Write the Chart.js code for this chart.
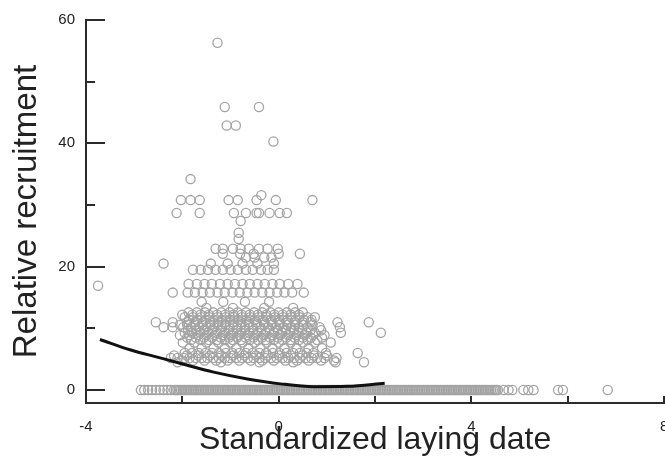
<!DOCTYPE html>
<html>
<head>
<meta charset="utf-8">
<script src="https://cdn.jsdelivr.net/npm/chart.js@4"></script>
<style>
  html, body { margin: 0; padding: 0; background: #fff; overflow: hidden; }
  #wrap { width: 665px; height: 460px; overflow: hidden; }
</style>
</head>
<body>
<div id="wrap"><canvas id="recruitChart" width="670" height="460"></canvas></div>
<script>
// axis ticks
const xTicks = [-4, -2, 0, 2, 4, 6, 8];
const yTicks = [0, 10, 20, 30, 40, 50, 60];

// observed recruitment levels (y) and the laying dates (x) found at each level
const recruitLevels = [0, 0, 4.5, 4.8, 5.2, 5.6, 6.0, 6.8, 7.7, 8.1, 8.5, 8.9, 9.3, 9.7, 10.2, 10.6, 11.0,
    11.4, 11.8, 12.2, 12.6, 13.3, 14.3, 15.8, 16.9, 17.2, 19.5, 20.5, 21.5, 22.1, 22.9, 24.5, 25.5, 27.4,
    28.7, 30.8, 31.6, 34.2, 40.3, 42.9, 45.9, 56.3];
const recruitDates = [
    [-2.86, -2.79, -2.71, -2.63, -2.55, -2.47, -2.39, -2.31, -2.24, -2.17, -2.10, -2.03, -1.96, -1.89, -1.82,
     -1.75, -1.68, -1.61, -1.54, -1.47, -1.40, -1.33, -1.26, -1.19, -1.12, -1.05, -0.98, -0.91, -0.84, -0.77,
     -0.70, -0.63, -0.56, -0.49, -0.42, -0.35, -0.28, -0.21, -0.14, -0.07, 0.00, 0.07, 0.14, 0.21, 0.28, 0.35,
     0.42, 0.49, 0.56, 0.63, 0.70, 0.77, 0.84, 0.91, 0.98, 1.05, 1.12, 1.19, 1.26, 1.33, 1.40, 1.47, 1.54,
     1.61, 1.68, 1.75, 1.82, 1.89, 1.96, 2.03, 2.10, 2.17, 2.24, 2.31, 2.38, 2.45, 2.52, 2.59, 2.66, 2.73,
     2.80, 2.87, 2.94, 3.01, 3.08, 3.15, 3.22, 3.29, 3.36, 3.43, 3.50, 3.57, 3.64, 3.71, 3.78, 3.85, 3.92,
     3.99, 4.06, 4.13, 4.20, 4.27, 4.34, 4.41, 4.48, 4.55, 4.67, 4.77, 4.85, 5.08, 5.18, 5.29, 5.80, 5.90, 6.83],
    [-2.135, -2.065, -1.995, -1.925, -1.855, -1.785, -1.715, -1.645, -1.575, -1.505, -1.435, -1.365, -1.295,
     -1.225, -1.155, -1.085, -1.015, -0.945, -0.875, -0.805, -0.735, -0.665, -0.595, -0.525, -0.455, -0.385,
     -0.315, -0.245, -0.175, -0.105, -0.035, 0.035, 0.105, 0.175, 0.245, 0.315, 0.385, 0.455, 0.525, 0.595,
     0.665, 0.735, 0.805, 0.875, 0.945, 1.015, 1.085, 1.155, 1.225, 1.295, 1.365, 1.435, 1.505, 1.575, 1.645,
     1.715, 1.785, 1.855, 1.925, 1.995, 2.065, 2.135, 2.205, 2.275, 2.345, 2.415, 2.485, 2.555, 2.625, 2.695,
     2.765, 2.835, 2.905, 2.975, 3.045, 3.115, 3.185, 3.255, 3.325, 3.395, 3.465, 3.535, 3.605, 3.675, 3.745,
     3.815, 3.885, 3.955, 4.025, 4.095, 4.165, 4.235, 4.305, 4.375, 4.445, 4.515],
    [-2.1, -1.2, -0.4, 0.3, 1.18, 1.77],
    [-2.0, -1.78, -1.54, -1.30, -1.06, -0.82, -0.58, -0.34, -0.10, 0.14, 0.38, 0.62, 0.88, 1.15],
    [-2.24, -2.10, -1.97, -1.85, -1.72, -1.60, -1.48, -1.36, -1.24, -1.12, -1.00, -0.88, -0.76, -0.64, -0.52,
     -0.40, -0.28, -0.16, -0.04, 0.08, 0.20, 0.32, 0.44, 0.56, 0.68, 0.80, 0.95, 1.20],
    [-2.17, -1.91, -1.67, -1.43, -1.19, -0.95, -0.71, -0.47, -0.23, 0.01, 0.25, 0.49, 0.73, 1.0],
    [-1.95, -1.80, -1.66, -1.52, -1.38, -1.24, -1.10, -0.96, -0.82, -0.68, -0.54, -0.40, -0.26, -0.12, 0.02,
     0.16, 0.30, 0.44, 0.58, 0.72, 0.98, 1.64],
    [-1.85, -1.6, -1.35, -1.12, -0.88, -0.63, -0.38, -0.13, 0.12, 0.37, 0.62, 0.9],
    [-1.99, -1.75, -1.5, -1.25, -1.0, -0.75, -0.5, -0.25, 0.0, 0.25, 0.5, 0.75, 1.08],
    [-1.82, -1.62, -1.45, -1.28, -1.12, -0.95, -0.78, -0.6, -0.43, -0.27, -0.1, 0.08, 0.25, 0.42, 0.6, 0.8],
    [-1.9, -1.72, -1.55, -1.38, -1.2, -1.03, -0.86, -0.69, -0.52, -0.35, -0.18, -0.01, 0.16, 0.33, 0.5, 0.67, 0.9],
    [-2.05, -1.85, -1.67, -1.5, -1.33, -1.16, -0.99, -0.82, -0.65, -0.48, -0.31, -0.14, 0.03, 0.2, 0.37, 0.54,
     0.71, 0.95],
    [-1.95, -1.8, -1.63, -1.46, -1.29, -1.12, -0.95, -0.78, -0.61, -0.44, -0.27, -0.10, 0.07, 0.24, 0.41, 0.58,
     0.75, 1.29, 2.12],
    [-1.88, -1.72, -1.55, -1.38, -1.21, -1.04, -0.87, -0.7, -0.53, -0.36, -0.19, -0.02, 0.15, 0.32, 0.49, 0.66, 0.88],
    [-2.39, -2.2, -1.98, -1.82, -1.66, -1.5, -1.34, -1.18, -1.02, -0.86, -0.7, -0.54, -0.38, -0.22, -0.06, 0.1,
     0.26, 0.42, 0.6, 0.85, 1.27],
    [-2.05, -1.9, -1.74, -1.58, -1.42, -1.26, -1.1, -0.94, -0.78, -0.62, -0.46, -0.3, -0.14, 0.02, 0.18, 0.34, 0.5, 0.7],
    [-2.55, -2.2, -1.9, -1.74, -1.58, -1.42, -1.26, -1.10, -0.94, -0.78, -0.62, -0.46, -0.30, -0.14, 0.02, 0.18,
     0.34, 0.5, 0.66, 1.22, 1.87],
    [-1.86, -1.69, -1.52, -1.35, -1.18, -1.01, -0.84, -0.67, -0.5, -0.33, -0.16, 0.01, 0.18, 0.35, 0.52, 0.68],
    [-1.95, -1.78, -1.61, -1.44, -1.27, -1.10, -0.93, -0.76, -0.59, -0.42, -0.25, -0.08, 0.09, 0.26, 0.43, 0.6, 0.75],
    [-2.0, -1.79, -1.62, -1.45, -1.28, -1.11, -0.94, -0.77, -0.6, -0.43, -0.26, -0.09, 0.08, 0.25, 0.42],
    [-1.87, -1.7, -1.53, -1.36, -1.19, -1.02, -0.85, -0.68, -0.51, -0.34, -0.17, 0.0, 0.17, 0.34, 0.5],
    [-1.5, -0.95, -0.3, 0.3],
    [-1.6, -1.15, -0.7, -0.2],
    [-2.2, -1.89, -1.74, -1.58, -1.43, -1.27, -1.12, -0.96, -0.81, -0.65, -0.5, -0.34, -0.19, -0.03, 0.12, 0.28, 0.52],
    [-3.75],
    [-1.87, -1.70, -1.54, -1.39, -1.22, -1.06, -0.91, -0.75, -0.60, -0.44, -0.29, -0.13, 0.02, 0.2, 0.39],
    [-1.78, -1.62, -1.47, -1.31, -1.16, -1.0, -0.85, -0.68, -0.54, -0.37, -0.23, -0.10],
    [-2.39, -1.41, -1.06, -0.75, -0.44, -0.10],
    [-0.68, -0.5, -0.3, -0.15],
    [-1.16, -0.80, -0.52, 0.0, 0.44],
    [-1.31, -1.16, -0.95, -0.79, -0.62, -0.41, -0.23, -0.02],
    [-0.83],
    [-0.83],
    [-0.79],
    [-2.12, -1.64, -0.93, -0.68, -0.46, -0.41, -0.19, 0.02, 0.17],
    [-2.03, -1.83, -1.64, -1.04, -0.85, -0.46, -0.06, 0.70],
    [-0.36],
    [-1.83],
    [-0.11],
    [-1.08, -0.89],
    [-1.12, -0.41],
    [-1.27]
];

// fitted curve
const fitX = [-3.71, -3.07, -2.5, -2.03, -1.35, -0.65, 0.04, 0.73, 1.43, 2.2];
const fitY = [8.2, 6.5, 5.3, 4.3, 2.9, 1.8, 1.0, 0.55, 0.6, 1.1];

const FONT = "'Liberation Sans', Arial, Helvetica, sans-serif";
const AXIS_COLOR = '#2b2b2b';

const scatterPoints = [];
recruitLevels.forEach(function (y, i) {
    recruitDates[i].forEach(function (x) { scatterPoints.push({ x: x, y: y }); });
});
const fitPoints = fitX.map(function (x, i) { return { x: x, y: fitY[i] }; });

// tick marks point into the plot area, so draw them from the scales
const innerTicks = {
    id: 'innerTicks',
    afterDraw: function (chart) {
        const ctx = chart.ctx;
        const xs = chart.scales.x, ys = chart.scales.y;
        const area = chart.chartArea;
        ctx.save();
        ctx.strokeStyle = AXIS_COLOR;
        ctx.lineWidth = 2;
        ctx.beginPath();
        yTicks.forEach(function (v) {
            const py = Math.round(ys.getPixelForValue(v));
            const len = v % 20 === 0 ? 19 : 9;
            ctx.moveTo(area.left, py);
            ctx.lineTo(area.left + len, py);
        });
        xTicks.forEach(function (v) {
            const px = Math.round(xs.getPixelForValue(v));
            ctx.moveTo(px, area.bottom);
            ctx.lineTo(px, area.bottom - 7);
        });
        ctx.stroke();
        ctx.restore();
    }
};

new Chart(document.getElementById('recruitChart'), {
    type: 'scatter',
    data: {
        datasets: [{
            type: 'line',
            data: fitPoints,
            borderColor: '#111',
            borderWidth: 3,
            pointRadius: 0,
            fill: false,
            tension: 0.4,
            cubicInterpolationMode: 'monotone'
        }, {
            data: scatterPoints,
            pointStyle: 'circle',
            pointRadius: 4.6,
            pointBorderWidth: 1.3,
            pointBorderColor: '#a3a3a3',
            pointBackgroundColor: 'rgba(0,0,0,0)',
            showLine: false
        }]
    },
    options: {
        responsive: false,
        animation: false,
        layout: { padding: { top: 18, right: 1, left: 0, bottom: 0 } },
        plugins: { legend: { display: false }, tooltip: { enabled: false } },
        scales: {
            x: {
                type: 'linear',
                min: -4,
                max: 8,
                afterBuildTicks: function (scale) { scale.ticks = xTicks.map(function (v) { return { value: v }; }); },
                afterFit: function (scale) {
                    scale.height = 57;
                    scale.paddingLeft = 0;
                    scale.paddingRight = 0;
                },
                grid: { display: false, drawTicks: false },
                border: { display: true, color: AXIS_COLOR, width: 2 },
                ticks: {
                    padding: 15,
                    color: '#222',
                    maxRotation: 0,
                    font: { family: FONT, size: 15 },
                    callback: function (v) { return v % 4 === 0 ? v : ''; }
                },
                title: {
                    display: true,
                    text: 'Standardized laying date',
                    color: '#222',
                    font: { family: FONT, size: 32 },
                    padding: { top: 0, bottom: 1 }
                }
            },
            y: {
                type: 'linear',
                min: -2.1,
                max: 60,
                afterBuildTicks: function (scale) { scale.ticks = yTicks.map(function (v) { return { value: v }; }); },
                afterFit: function (scale) { scale.width = 86; },
                grid: { display: false, drawTicks: false },
                border: { display: true, color: AXIS_COLOR, width: 2 },
                ticks: {
                    padding: 11,
                    color: '#222',
                    font: { family: FONT, size: 15 },
                    callback: function (v) { return v % 20 === 0 ? v : ''; }
                },
                title: {
                    display: true,
                    text: 'Relative recruitment',
                    color: '#222',
                    font: { family: FONT, size: 33 },
                    padding: { top: 7, bottom: 0 }
                }
            }
        }
    },
    plugins: [innerTicks]
});
</script>
</body>
</html>
